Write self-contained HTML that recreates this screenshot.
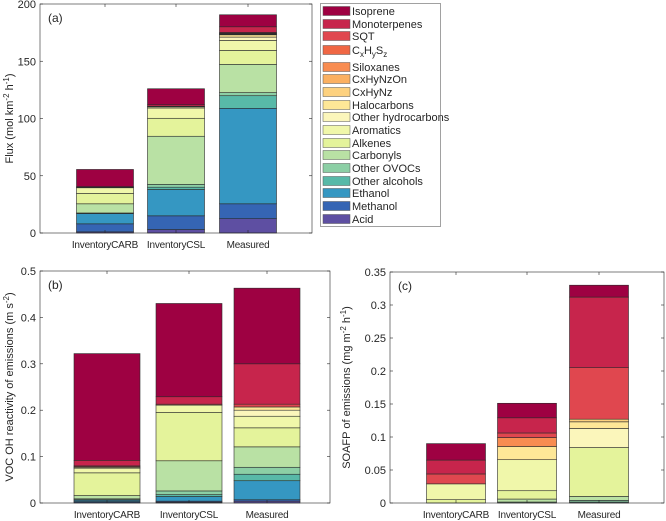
<!DOCTYPE html>
<html><head><meta charset="utf-8">
<style>
html,body{margin:0;padding:0;background:#fff;}
svg{display:block;font-family:"Liberation Sans",Arial,sans-serif;}
text{fill:#262626;}
</style></head>
<body>
<svg id="fig" width="666" height="521" viewBox="0 0 666 521"></svg>
<script>
const categories = ["InventoryCARB", "InventoryCSL", "Measured"];
const species = ["Acid","Methanol","Ethanol","Other alcohols","Other OVOCs","Carbonyls","Alkenes","Aromatics","Other hydrocarbons","Halocarbons","CxHyNz","CxHyNzOn","Siloxanes","CxHySz","SQT","Monoterpenes","Isoprene"];
const colors = ["#5e4fa2","#3565b4","#3597c2","#58b9a8","#8ccfa5","#b9e1a4","#e4f39b","#f0f7aa","#fbf6bb","#fee797","#fdd17f","#fbb061","#f88c51","#f06744","#e0474f","#c7254c","#9e0142"];
const fluxCARB = [1,7,9,0,0.5,8,9,5,0,0.5,0,0,0,0,0,0.5,15];
const fluxCSL = [3,12,23,2,2.5,42,15.7,9,1,0.5,0,0,0,0,0,1.3,14];
const fluxMeas = [12.5,13,83.4,11,2.7,24.7,12.2,8.7,2.9,2,0.5,0.3,0.2,0.5,0.5,5,10.5];
const ohrCARB = [.001,.002,.003,.001,.002,.007,.049,.01,.001,.002,0,0,0,0,.002,.012,.23];
const ohrCSL = [.002,.002,.01,.004,.008,.065,.104,.016,0,0,0,0,0,0,.002,.016,.201];
const ohrMeas = [.004,.003,.041,.014,.015,.044,.041,.025,.013,.007,0,0,0,0,.006,.087,.163];
const soaCARB = [0,0,0,0,0,0,.005,.024,0,0,0,0,0,0,.015,.021,.025];
const soaCSL = [0,0,0,0,.0015,.0045,.0126,.047,0,.020,0,0,.0135,0,.007,.023,.022];
const soaMeas = [0,0,0,.0015,.0025,.006,.074,0,.029,.010,.004,0,0,0,.078,.107,.018];
const ticksA = [0,50,100,150,200];
const ticksB = [0,0.1,0.2,0.3,0.4,0.5];
const ticksC = [0,0.05,0.1,0.15,0.2,0.25,0.3,0.35];

const NS="http://www.w3.org/2000/svg";
const svg=document.getElementById('fig');
function mk(tag,attrs,parent){const e=document.createElementNS(NS,tag);for(const k in attrs)e.setAttribute(k,attrs[k]);(parent||svg).appendChild(e);return e;}

function panel(cfg){
  const g=mk('g',{});
  
  
  const {x0,x1,y0,y1,max}=cfg;
  const ys=v=>y1-(v/max)*(y1-y0);
  const xs=i=>cfg.centers[i];
  const series=[cfg.d0,cfg.d1,cfg.d2];
  series.forEach((vals,ci)=>{
    let acc=0;
    vals.forEach((v,si)=>{
      if(v<=0) return;
      const yt=ys(acc+v), yb=ys(acc);
      const r=mk('rect',{x:xs(ci)-cfg.bw/2,y:yt,width:cfg.bw,height:Math.max(yb-yt,0.01),fill:colors[si],stroke:'#2b2b2b','stroke-width':0.6},g);
      
      
      acc+=v;
    });
    const t=mk('text',{x:xs(ci),y:y1+15,'font-size':10,'letter-spacing':'-0.2','text-anchor':'middle'},g);
    t.textContent=categories[ci];
    
    
  });
  const box=mk('rect',{x:x0,y:y0,width:x1-x0,height:y1-y0,fill:'none',stroke:'#262626','stroke-width':0.6},g);
  
  
  cfg.ticks.forEach(tv=>{
    const y=ys(tv);
    mk('line',{x1:x0,x2:x0+3,y1:y,y2:y,stroke:'#262626','stroke-width':0.6},g);
    mk('line',{x1:x1,x2:x1-3,y1:y,y2:y,stroke:'#262626','stroke-width':0.6},g);
    const t=mk('text',{x:x0-4,y:y+4,'font-size':11,'text-anchor':'end'},g);
    t.textContent=String(tv);
    
    
  });
  cfg.centers.forEach(c=>{
    mk('line',{x1:c,x2:c,y1:y1,y2:y1-3,stroke:'#262626','stroke-width':0.6},g);
    mk('line',{x1:c,x2:c,y1:y0,y2:y0+3,stroke:'#262626','stroke-width':0.6},g);
  });
  const lab=mk('text',{x:x0+8,y:y0+18,'font-size':12},g);
  lab.textContent=cfg.letter;
  
  
  const yl=mk('text',{x:0,y:0,'font-size':11,'text-anchor':'middle',transform:`translate(${cfg.ylx},${(y0+y1)/2}) rotate(-90)`},g);
  yl.innerHTML=cfg.ylabel;
  
  
}

panel({name:'panel-a-flux',x0:40,x1:312,y0:4,y1:233,max:200,centers:[105,176,248],bw:57,d0:fluxCARB,d1:fluxCSL,d2:fluxMeas,ticks:ticksA,letter:'(a)',ylx:13,
  ylabel:'Flux (mol km<tspan dy="-4" font-size="8">-2</tspan><tspan dy="4"> h</tspan><tspan dy="-4" font-size="8">-1</tspan><tspan dy="4">)</tspan>'});
panel({name:'panel-b-oh-reactivity',x0:40,x1:330,y0:271,y1:503,max:0.5,centers:[107,189,267],bw:66,d0:ohrCARB,d1:ohrCSL,d2:ohrMeas,ticks:ticksB,letter:'(b)',ylx:13,
  ylabel:'VOC OH reactivity of emissions (m s<tspan dy="-4" font-size="8">-2</tspan><tspan dy="4">)</tspan>'});
panel({name:'panel-c-soafp',x0:390,x1:664,y0:272,y1:503,max:0.35,centers:[456,527,599],bw:59,d0:soaCARB,d1:soaCSL,d2:soaMeas,ticks:ticksC,letter:'(c)',ylx:350,
  ylabel:'SOAFP of emissions (mg m<tspan dy="-4" font-size="8">-2</tspan><tspan dy="4"> h</tspan><tspan dy="-4" font-size="8">-1</tspan><tspan dy="4">)</tspan>'});

// legend
const lg=mk('g',{});


mk('rect',{x:320.5,y:3.5,width:120,height:223,fill:'#fff',stroke:'#8a8a8a','stroke-width':0.8},lg);
const legYs=[11,24,36,50,67,79,92,105,117,130,143,155,168,181,193,206,219];
const legOrder=species.slice().reverse();
const legColors=colors.slice().reverse();
legOrder.forEach((s,i)=>{
  const y=legYs[i];
  const e=mk('g',{},lg);
  
  
  mk('rect',{x:323,y:y-4.5,width:27,height:9,fill:legColors[i],stroke:'#555','stroke-width':0.5},e);
  const t=mk('text',{x:352,y:y+4,'font-size':11},e);
  if(s==='CxHySz') t.innerHTML='C<tspan dy="3" font-size="8">x</tspan><tspan dy="-3">H</tspan><tspan dy="3" font-size="8">y</tspan><tspan dy="-3">S</tspan><tspan dy="3" font-size="8">z</tspan>';
  else t.textContent=s;
});
</script>
</body></html>
